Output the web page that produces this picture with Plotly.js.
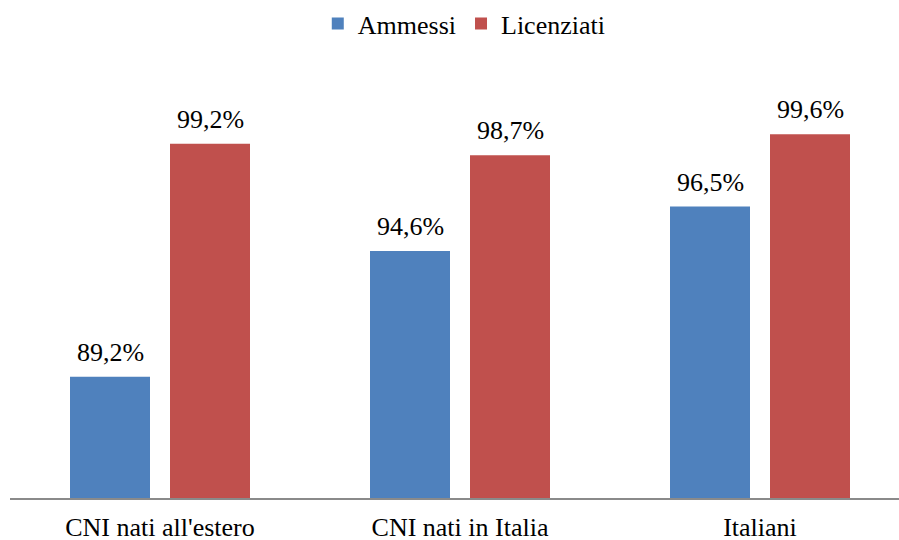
<!DOCTYPE html>
<html>
<head>
<meta charset="utf-8">
<script src="https://cdn.plot.ly/plotly-3.0.1.min.js"></script>
<style>
html,body{margin:0;padding:0;background:#fff;}
svg text{font-family:"Liberation Serif","Times New Roman","DejaVu Serif",serif !important;}
</style>
</head>
<body>
<div id="plotdiv" style="width:899px;height:540px;"></div>
<script>
const categories = ["CNI nati all'estero", "CNI nati in Italia", "Italiani"];
const ammessi = [89.2, 94.6, 96.5];
const licenziati = [99.2, 98.7, 99.6];
const seriesNames = ["Ammessi", "Licenziati"];

function fmt(v) { return v.toFixed(1).replace('.', ',') + '%'; }
function serifFont() { return {family: 'Times New Roman', size: 26, color: '#000'}; }

const barTraces = [
  {type: 'bar', name: seriesNames[0], x: categories, y: ammessi, marker: {color: '#4F81BD'}},
  {type: 'bar', name: seriesNames[1], x: categories, y: licenziati, marker: {color: '#C0504D'}}
];

const labelNotes = [];
[ammessi, licenziati].forEach(function (arr, si) {
  arr.forEach(function (v, i) {
    labelNotes.push({
      x: i + (si === 0 ? -1/6 : 1/6), y: v, xref: 'x', yref: 'y',
      text: fmt(v), showarrow: false, yanchor: 'bottom', yshift: 8, font: serifFont()
    });
  });
});

const chartLayout = {
  width: 899, height: 540,
  margin: {l: 10, r: 0, t: 124, b: 42},
  paper_bgcolor: '#fff', plot_bgcolor: '#fff',
  font: serifFont(),
  barmode: 'group', bargap: 1/3, bargroupgap: 0.2,
  showlegend: true,
  legend: {orientation: 'h', x: 0.511, xanchor: 'center', y: 1.272, yanchor: 'middle', font: serifFont()},
  xaxis: {
    type: 'category', range: [-0.5, -0.5 + 889/300],
    showline: true, linecolor: '#8a8a8a', linewidth: 1.5,
    ticks: '', ticklabelstandoff: 5, showgrid: false, zeroline: false, tickfont: serifFont()
  },
  yaxis: {range: [84, 100], visible: false, showgrid: false, zeroline: false},
  annotations: labelNotes
};

Plotly.newPlot('plotdiv', barTraces, chartLayout, {displayModeBar: false});
</script>
</body>
</html>
